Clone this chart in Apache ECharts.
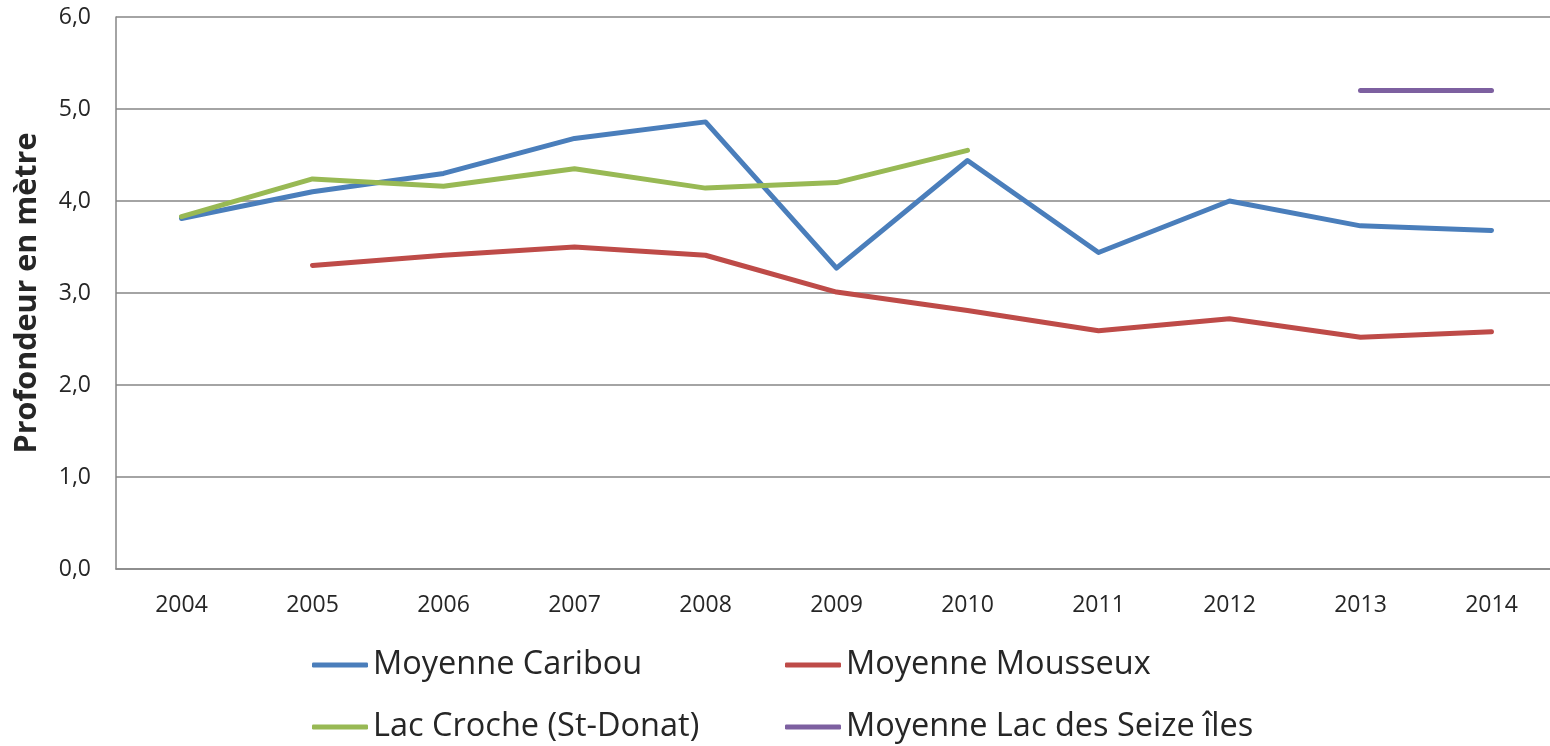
<!DOCTYPE html>
<html>
<head>
<meta charset="utf-8">
<script src="https://cdn.jsdelivr.net/npm/echarts@6/dist/echarts.min.js"></script>
<style>
html,body{margin:0;padding:0;background:#fff;}
#chart{width:1550px;height:746px;}
</style>
</head>
<body>
<div id="chart"></div>
<script>
const years = ['2004','2005','2006','2007','2008','2009','2010','2011','2012','2013','2014'];
const caribou = [3.81, 4.10, 4.30, 4.68, 4.86, 3.27, 4.44, 3.44, 4.00, 3.73, 3.68];
const mousseux = [null, 3.30, 3.41, 3.50, 3.41, 3.01, 2.81, 2.59, 2.72, 2.52, 2.58];
const croche = [3.83, 4.24, 4.16, 4.35, 4.14, 4.20, 4.55, null, null, null, null];
const seizeIles = [null, null, null, null, null, null, null, null, null, 5.20, 5.20];
const seriesNames = ['Moyenne Caribou', 'Moyenne Mousseux', 'Lac Croche (St-Donat)', 'Moyenne Lac des Seize îles'];
const colors = ['#4A7EBB', '#BE4B48', '#98B954', '#7D60A0'];
const yAxisName = 'Profondeur en mètre';

const font = '"Open Sans", "Liberation Sans", sans-serif';
const textColor = '#262626';

function mkSeries(name, data, color) {
  return {
    name: name, type: 'line', data: data, symbol: 'none', connectNulls: false,
    lineStyle: { color: color, width: 5, cap: 'round', join: 'round' },
    itemStyle: { color: color },
    emphasis: { disabled: true }, animation: false
  };
}

const legendCommon = {
  left: 312, orient: 'horizontal', padding: 0, itemGap: 7,
  icon: 'roundRect', itemWidth: 56, itemHeight: 5, itemTextGap: 5,
  textStyle: { fontFamily: font, fontSize: 32.5, color: textColor, width: 405, lineHeight: 40 }
};

const chart = echarts.init(document.getElementById('chart'), null, { renderer: 'canvas' });
chart.setOption({
  animation: false,
  color: colors,
  grid: { left: 116, width: 1441, top: 17, bottom: 177, containLabel: false, outerBoundsMode: 'none' },
  legend: [
    Object.assign({}, legendCommon, { top: 645, data: [seriesNames[0], seriesNames[1]] }),
    Object.assign({}, legendCommon, { top: 707, data: [seriesNames[2], seriesNames[3]] })
  ],
  xAxis: {
    type: 'category', data: years, boundaryGap: true,
    axisLine: { show: true, lineStyle: { color: '#868686', width: 1.5 } },
    axisTick: { show: false },
    axisLabel: { fontFamily: font, fontSize: 23, color: textColor, margin: 25 },
    splitLine: { show: false }
  },
  yAxis: {
    type: 'value', min: 0, max: 6, interval: 1,
    name: yAxisName, nameLocation: 'middle', nameGap: 73, nameRotate: 90,
    nameTextStyle: { fontFamily: font, fontSize: 30.5, fontWeight: 'bold', color: textColor },
    axisLine: { show: true, lineStyle: { color: '#868686', width: 1.5 } },
    axisTick: { show: false },
    axisLabel: { fontFamily: font, fontSize: 23, color: textColor, margin: 25,
      formatter: v => v.toFixed(1).replace('.', ',') },
    splitLine: { show: true, lineStyle: { color: '#868686', width: 1.5 } }
  },
  series: [
    mkSeries(seriesNames[0], caribou, colors[0]),
    mkSeries(seriesNames[1], mousseux, colors[1]),
    mkSeries(seriesNames[2], croche, colors[2]),
    mkSeries(seriesNames[3], seizeIles, colors[3])
  ]
});
</script>
</body>
</html>
